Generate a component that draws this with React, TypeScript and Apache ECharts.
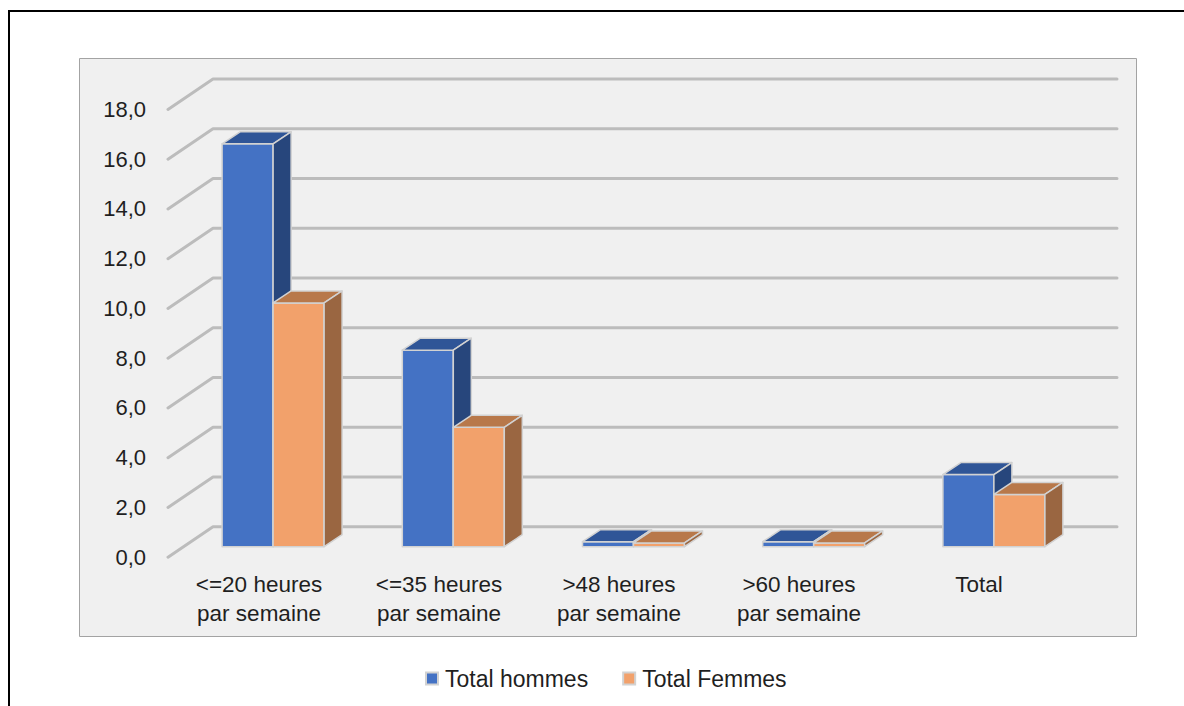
import React, { useEffect, useRef } from "react";
import * as echarts from "echarts";

// Categories (x axis) and series values
const categories = [
  "<=20 heures\npar semaine",
  "<=35 heures\npar semaine",
  ">48 heures\npar semaine",
  ">60 heures\npar semaine",
  "Total",
];
const totalHommes = [16.2, 7.9, 0.2, 0.2, 2.9];
const totalFemmes = [9.8, 4.8, 0.15, 0.15, 2.1];
const seriesNames = ["Total hommes", "Total Femmes"];

// Value axis ticks
const yTicks = [0, 2, 4, 6, 8, 10, 12, 14, 16, 18];
const Y_MIN = 0;
const Y_MAX = 18;
const Y_STEP = 2;

// Face colours for each series: front, top, side
const BLUE = { front: "#4472C4", top: "#2F5597", side: "#27467C" };
const ORANGE = { front: "#F2A16B", top: "#B8784A", side: "#9A6641" };

// Oblique projection offsets
const WALL_DX = 45; // depth of floor (front edge -> back wall)
const WALL_DY = 30.5;
const BAR_DX = 18; // depth of each column
const BAR_DY = 12;
const BAR_RATIO = 0.283; // column width relative to category band

const FONT = "'Liberation Sans', Arial, sans-serif";
const TEXT = "#1f1f1f";
const GRID_COLOR = "#BCBCBC";
const EDGE = "#D2D2D2";

function boxRenderer(side: "left" | "right", colors: { front: string; top: string; side: string }) {
  return (params: any, api: any) => {
    const ci = api.value(0);
    const v = api.value(1);
    const base = api.coord([ci, 0]);
    const top = api.coord([ci, v]);
    const band = api.size([1, 0])[0];
    const w = band * BAR_RATIO;
    const x0 = side === "left" ? base[0] - w : base[0];
    const x1 = x0 + w;
    const yb = base[1];
    const yt = top[1];
    const edge = { stroke: EDGE, lineWidth: 1.5, lineJoin: "round" };
    return {
      type: "group",
      children: [
        {
          type: "polygon",
          shape: { points: [[x0, yb], [x1, yb], [x1, yt], [x0, yt]] },
          style: { fill: colors.front, ...edge },
        },
        {
          type: "polygon",
          shape: {
            points: [[x0, yt], [x1, yt], [x1 + BAR_DX, yt - BAR_DY], [x0 + BAR_DX, yt - BAR_DY]],
          },
          style: { fill: colors.top, ...edge },
        },
        {
          type: "polygon",
          shape: {
            points: [[x1, yb], [x1 + BAR_DX, yb - BAR_DY], [x1 + BAR_DX, yt - BAR_DY], [x1, yt]],
          },
          style: { fill: colors.side, ...edge },
        },
      ],
    };
  };
}

function gridLineRenderer(params: any, api: any) {
  const p = api.coord([0, api.value(1)]);
  const cs = params.coordSys;
  const left = cs.x;
  const right = cs.x + cs.width;
  return {
    type: "polyline",
    shape: {
      points: [
        [left - WALL_DX, p[1] + WALL_DY],
        [left, p[1]],
        [right, p[1]],
      ],
    },
    style: { stroke: GRID_COLOR, lineWidth: 3, fill: null, lineCap: "round", lineJoin: "round" },
  };
}

export default function App() {
  const ref = useRef<HTMLDivElement>(null);

  useEffect(() => {
    const chart = echarts.init(ref.current!, null, { renderer: "svg", width: 1176, height: 698 });

    const hiddenValueAxis = (gridIndex: number) => ({
      type: "value",
      gridIndex,
      min: Y_MIN,
      max: Y_MAX,
      interval: Y_STEP,
      axisLine: { show: false },
      axisTick: { show: false },
      axisLabel: { show: false },
      splitLine: { show: false },
    });
    const hiddenCatAxis = (gridIndex: number) => ({
      type: "category",
      gridIndex,
      data: categories,
      axisLine: { show: false },
      axisTick: { show: false },
      axisLabel: { show: false },
      splitLine: { show: false },
    });

    const option: any = {
      animation: false,
      backgroundColor: "#ffffff",
      textStyle: { fontFamily: FONT },
      graphic: [
        {
          type: "rect",
          z: -10,
          shape: { x: 71.5, y: 50.5, width: 1057, height: 578 },
          style: { fill: "#F0F0F0", stroke: "#A3A3A3", lineWidth: 1 },
        },
        {
          type: "line",
          z: 10,
          shape: { x1: 0, y1: 3, x2: 1200, y2: 3 },
          style: { stroke: "#000000", lineWidth: 2 },
        },
        {
          type: "line",
          z: 10,
          shape: { x1: 1, y1: 2, x2: 1, y2: 720 },
          style: { stroke: "#000000", lineWidth: 2 },
        },
      ],
      grid: [
        // back wall
        { left: 205, top: 71, width: 904, height: 447.7 },
        // front edge of the floor (axis labels)
        { left: 161, top: 101.5, width: 900, height: 447.7 },
        // plane of the columns' front faces
        { left: 175, top: 91, width: 901, height: 447.7 },
      ],
      xAxis: [
        hiddenCatAxis(0),
        {
          type: "category",
          gridIndex: 1,
          data: categories,
          axisLine: { show: false },
          axisTick: { show: false },
          splitLine: { show: false },
          axisLabel: {
            interval: 0,
            fontSize: 22.5,
            lineHeight: 29,
            margin: 13,
            color: TEXT,
            fontFamily: FONT,
          },
        },
        hiddenCatAxis(2),
      ],
      yAxis: [
        hiddenValueAxis(0),
        {
          type: "value",
          gridIndex: 1,
          min: Y_MIN,
          max: Y_MAX,
          interval: Y_STEP,
          axisLine: { show: false },
          axisTick: { show: false },
          splitLine: { show: false },
          axisLabel: {
            fontSize: 22,
            margin: 23,
            color: TEXT,
            fontFamily: FONT,
            formatter: (v: number) => v.toFixed(1).replace(".", ","),
          },
        },
        hiddenValueAxis(2),
      ],
      legend: {
        left: 412,
        top: 654,
        itemWidth: 12,
        itemHeight: 12,
        itemGap: 34,
        icon: "rect",
        textStyle: { fontSize: 23, color: TEXT, fontFamily: FONT, padding: [0, 0, 0, 2] },
        data: seriesNames,
      },
      series: [
        {
          type: "custom",
          name: "grille",
          xAxisIndex: 0,
          yAxisIndex: 0,
          z: 1,
          silent: true,
          renderItem: gridLineRenderer,
          encode: { x: 0, y: 1 },
          data: yTicks.map((t) => [0, t]),
        },
        {
          type: "custom",
          name: seriesNames[0],
          xAxisIndex: 2,
          yAxisIndex: 2,
          z: 3,
          itemStyle: { color: BLUE.front, borderColor: EDGE, borderWidth: 1 },
          renderItem: boxRenderer("left", BLUE),
          encode: { x: 0, y: 1 },
          data: totalHommes.map((v, i) => [i, v]),
        },
        {
          type: "custom",
          name: seriesNames[1],
          xAxisIndex: 2,
          yAxisIndex: 2,
          z: 3,
          itemStyle: { color: ORANGE.front, borderColor: EDGE, borderWidth: 1 },
          renderItem: boxRenderer("right", ORANGE),
          encode: { x: 0, y: 1 },
          data: totalFemmes.map((v, i) => [i, v]),
        },
      ],
    };

    chart.setOption(option);
    return () => chart.dispose();
  }, []);

  return (
    <div
      ref={ref}
      style={{ position: "fixed", left: 8, top: 8, width: 1176, height: 698 }}
    />
  );
}
